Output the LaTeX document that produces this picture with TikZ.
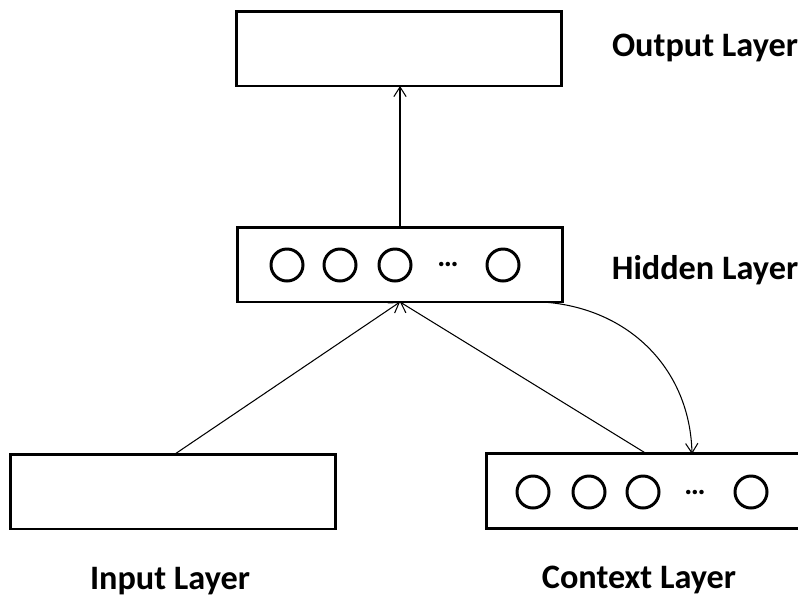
\documentclass[tikz,border=0pt]{standalone}
\usepackage{fontspec}
\setmainfont{Carlito}
\usetikzlibrary{arrows.meta}
\begin{document}
\begin{tikzpicture}[x=0.02cm,y=-0.02cm,
  layerbox/.style={draw,line width=1.7pt,rectangle,minimum width=6.52cm,minimum height=1.5cm,inner sep=0pt},
  openbox/.style={rectangle,minimum width=8cm,minimum height=1.5cm,inner sep=0pt},
  boxline/.style={line width=1.7pt},
  unit/.style={draw,circle,line width=1.7pt,minimum size=0.64cm,inner sep=0pt},
  ellip/.style={font=\bfseries\fontsize{17}{17}\selectfont,inner sep=0pt,anchor=base},
  conn/.style={line width=0.6pt,-{Straight Barb[length=5.5pt,width=7pt,line width=0.6pt]}},
  lbl/.style={font=\bfseries\fontsize{19.5}{23}\selectfont,inner sep=0pt,anchor=base}]
\useasboundingbox (0,0) rectangle (798,596);
% boxes
\node[layerbox] (out) at (399,48.5) {};
\node[layerbox] (hid) at (400,264.5) {};
\node[layerbox] (inp) at (173,491.5) {};
\node[openbox] (ctx) at (687,491) {};
\draw[boxline] (ctx.north east) -- (ctx.north west) -- (ctx.south west) -- (ctx.south east);
% hidden units
\node[unit] (h1) at (287,265) {};
\node[unit] (h2) at (340,265) {};
\node[unit] (h3) at (395,265) {};
\node[ellip] (hd) at (448,266) {…};
\node[unit] (h4) at (503,265) {};
% context units
\node[unit] (c1) at (533,492) {};
\node[unit] (c2) at (589,492) {};
\node[unit] (c3) at (643,492) {};
\node[ellip] (cd) at (695,494) {…};
\node[unit] (c4) at (751,492) {};
% labels
\node[lbl] (lo) at (705,56) {Output Layer};
\node[lbl] (lh) at (705,279) {Hidden Layer};
\node[lbl] (li) at (170,589) {Input Layer};
\node[lbl] (lc) at (639,588) {Context Layer};
% connection points
\coordinate (hb) at (400,302);
\coordinate (ht) at (400,227);
\coordinate (ob) at (400,86);
\coordinate (it) at (175,454);
\coordinate (ct) at (647,454);
\coordinate (hr) at (543,302);
\coordinate (cc) at (692,454);
% connectors
\draw[conn] (ht) -- (ob);
\draw[conn] (it) -- (hb);
\draw[conn] (ct) -- (hb);
\draw[conn] (hr) .. controls (630,308) and (690,370) .. (cc);
\end{tikzpicture}
\end{document}
